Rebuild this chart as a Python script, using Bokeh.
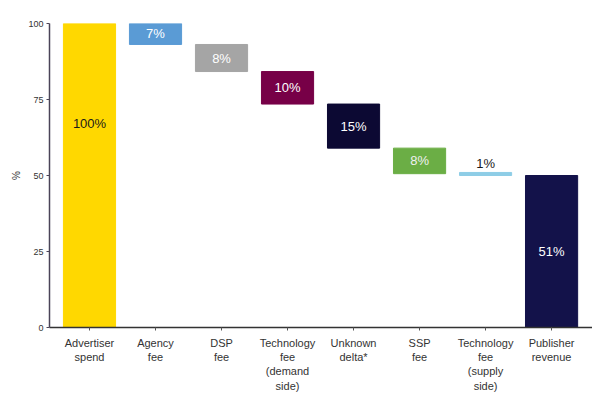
from bokeh.plotting import figure
from bokeh.models import ColumnDataSource, Range1d, FixedTicker
from bokeh.core.properties import value
from bokeh.embed import file_html
from bokeh.resources import INLINE

categories = ["Advertiser\nspend", "Agency\nfee", "DSP\nfee",
              "Technology\nfee\n(demand\nside)", "Unknown\ndelta*", "SSP\nfee",
              "Technology\nfee\n(supply\nside)", "Publisher\nrevenue"]
shares = [100, 7, 8, 10, 15, 8, 1, 51]
bar_top = [100, 100, 93.1, 84.2, 73.5, 59, 51, 50]
bar_bottom = [0, 93.1, 84.2, 73.5, 59, 50.6, 50, 0]
colors = ["#FFD800", "#5A9BD5", "#A5A5A5", "#770047", "#0C0933",
          "#6BAE45", "#8ECDE6", "#13124A"]
label_colors = ["#1a1a1a", "white", "white", "white", "white", "#f0f0f0",
                "#1a1a1a", "white"]
yticks = [0, 25, 50, 75, 100]

xs = list(range(len(categories)))
label_y = []
for i in xs:
    if i == 0:
        label_y.append(67)
    elif bar_top[i] - bar_bottom[i] < 3:
        label_y.append(bar_top[i] + 2.8)
    else:
        label_y.append((bar_top[i] + bar_bottom[i]) / 2)

src = ColumnDataSource(dict(x=xs, top=bar_top, bottom=bar_bottom, color=colors,
                            lab=[f"{s}%" for s in shares], ly=label_y,
                            lc=label_colors))

p = figure(width=592, height=402, output_backend="svg", toolbar_location=None,
           x_range=Range1d(-0.606, 7.62), y_range=Range1d(0, 100),
           min_border_left=49, min_border_right=0, min_border_top=23,
           min_border_bottom=75)
p.outline_line_color = None
p.grid.visible = False
p.border_fill_color = "white"
p.background_fill_color = "white"

p.vbar(x="x", top="top", bottom="bottom", width=0.79, color="color", source=src)
p.text(x="x", y="ly", text="lab", text_color="lc", source=src,
       text_align="center", text_baseline="middle",
       text_font=value("Liberation Sans"), text_font_size="13px")

p.xaxis.ticker = FixedTicker(ticks=xs)
p.xaxis.major_label_overrides = {i: c for i, c in enumerate(categories)}
p.xaxis.major_label_text_font = "Liberation Sans"
p.xaxis.major_label_text_font_size = "11px"
p.xaxis.major_label_text_color = "#333333"
p.xaxis.axis_line_color = "#333333"
p.xaxis.axis_line_width = 1.5
p.xaxis.major_tick_line_color = "#555555"
p.xaxis.major_tick_out = 3
p.xaxis.major_tick_in = 0
p.xaxis.minor_tick_line_color = None
p.xaxis.major_label_standoff = 6

p.yaxis.ticker = FixedTicker(ticks=yticks)
p.yaxis.axis_label = "%"
p.yaxis.axis_label_text_font = "Liberation Sans"
p.yaxis.axis_label_text_font_style = "normal"
p.yaxis.axis_label_text_font_size = "10px"
p.yaxis.axis_label_text_color = "#333333"
p.yaxis.axis_label_standoff = 3
p.yaxis.major_label_text_font = "Liberation Sans"
p.yaxis.major_label_text_font_size = "9px"
p.yaxis.major_label_text_color = "#333333"
p.yaxis.axis_line_color = "#4a4458"
p.yaxis.axis_line_width = 1.5
p.yaxis.major_tick_line_color = "#4a4458"
p.yaxis.major_tick_out = 3
p.yaxis.major_tick_in = 0
p.yaxis.minor_tick_line_color = None
p.yaxis.major_label_standoff = 3

open("out.html", "w").write(file_html(p, INLINE))
